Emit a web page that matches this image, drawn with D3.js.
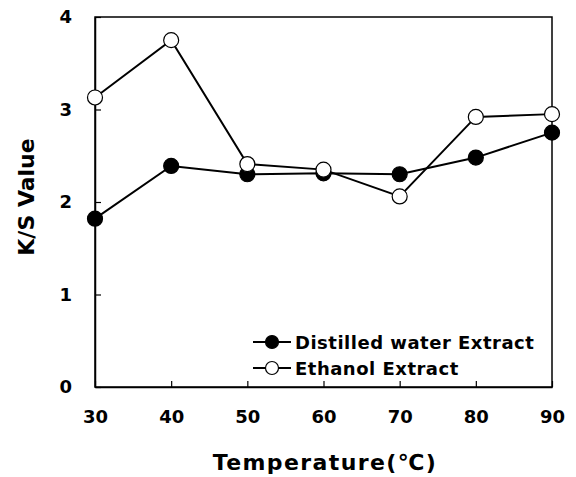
<!DOCTYPE html>
<html>
<head>
<meta charset="utf-8">
<script src="https://cdn.jsdelivr.net/npm/d3@7/dist/d3.min.js"></script>
<style>
  body { margin: 0; background: #fff; }
  text { font-family: "DejaVu Sans", sans-serif; font-weight: bold; fill: #000; }
</style>
</head>
<body>
<svg id="chart" width="576" height="477"></svg>
<script>
// K/S values of dyed samples by extraction temperature
const temperatures = [30, 40, 50, 60, 70, 80, 90];
const waterExtract = [1.82, 2.39, 2.30, 2.31, 2.30, 2.48, 2.75];
const ethanolExtract = [3.13, 3.75, 2.41, 2.35, 2.06, 2.92, 2.95];
const yTicks = [0, 1, 2, 3, 4];
const seriesNames = ["Distilled water Extract", "Ethanol Extract"];

const svg = d3.select("#chart");
const plotLeft = 95, plotRight = 552, plotTop = 17, plotBottom = 387;

const x = d3.scaleLinear().domain([30, 90]).range([plotLeft, plotRight]);
const y = d3.scaleLinear().domain([0, 4]).range([plotBottom, plotTop]);

// frame
svg.append("rect")
  .attr("x", plotLeft).attr("y", plotTop)
  .attr("width", plotRight - plotLeft).attr("height", plotBottom - plotTop)
  .attr("fill", "none").attr("stroke", "#000").attr("stroke-width", 1.5);

// x axis with inward ticks
const xAxis = svg.append("g").attr("transform", `translate(0,${plotBottom})`)
  .call(d3.axisBottom(x).tickValues(temperatures).tickSizeInner(-6).tickSizeOuter(0).tickPadding(23));
xAxis.select(".domain").attr("stroke-width", 1.5);
xAxis.selectAll("line").attr("stroke-width", 1.2);
xAxis.selectAll("text").style("font-size", "18px");

// y axis with inward ticks
const yAxis = svg.append("g").attr("transform", `translate(${plotLeft},0)`)
  .call(d3.axisLeft(y).tickValues(yTicks).tickFormat(d3.format("d")).tickSizeInner(-6).tickSizeOuter(0).tickPadding(23));
yAxis.select(".domain").attr("stroke-width", 1.5);
yAxis.selectAll("line").attr("stroke-width", 1.2);
yAxis.selectAll("text").style("font-size", "18px");

// axis titles
svg.append("text")
  .attr("x", 325).attr("y", 470)
  .attr("text-anchor", "middle").style("font-size", "22px").style("letter-spacing", "1.4px")
  .text("Temperature(℃)");
svg.append("text")
  .attr("transform", `translate(34,197) rotate(-90)`)
  .attr("text-anchor", "middle").style("font-size", "22px")
  .text("K/S Value");

const line = d3.line().x((d, i) => x(temperatures[i])).y(d => y(d));

function drawSeries(values, fill) {
  svg.append("path").datum(values)
    .attr("d", line).attr("fill", "none")
    .attr("stroke", "#000").attr("stroke-width", 2);
  svg.append("g").selectAll("circle").data(values).join("circle")
    .attr("cx", (d, i) => x(temperatures[i]))
    .attr("cy", d => y(d))
    .attr("r", 7.5)
    .attr("fill", fill).attr("stroke", "#000").attr("stroke-width", 1.2);
}
drawSeries(waterExtract, "#000");
drawSeries(ethanolExtract, "#fff");

// legend
const legend = svg.append("g");
seriesNames.forEach((name, i) => {
  const ly = 342 + i * 26;
  const fill = i === 0 ? "#000" : "#fff";
  legend.append("line").attr("x1", 253).attr("x2", 291).attr("y1", ly).attr("y2", ly)
    .attr("stroke", "#000").attr("stroke-width", 2);
  legend.append("circle").attr("cx", 272).attr("cy", ly).attr("r", 6.5)
    .attr("fill", fill).attr("stroke", "#000").attr("stroke-width", 1.2);
  legend.append("text").attr("x", 295).attr("y", ly + 7)
    .style("font-size", "18px").style("letter-spacing", "0.5px").text(name);
});
</script>
</body>
</html>
